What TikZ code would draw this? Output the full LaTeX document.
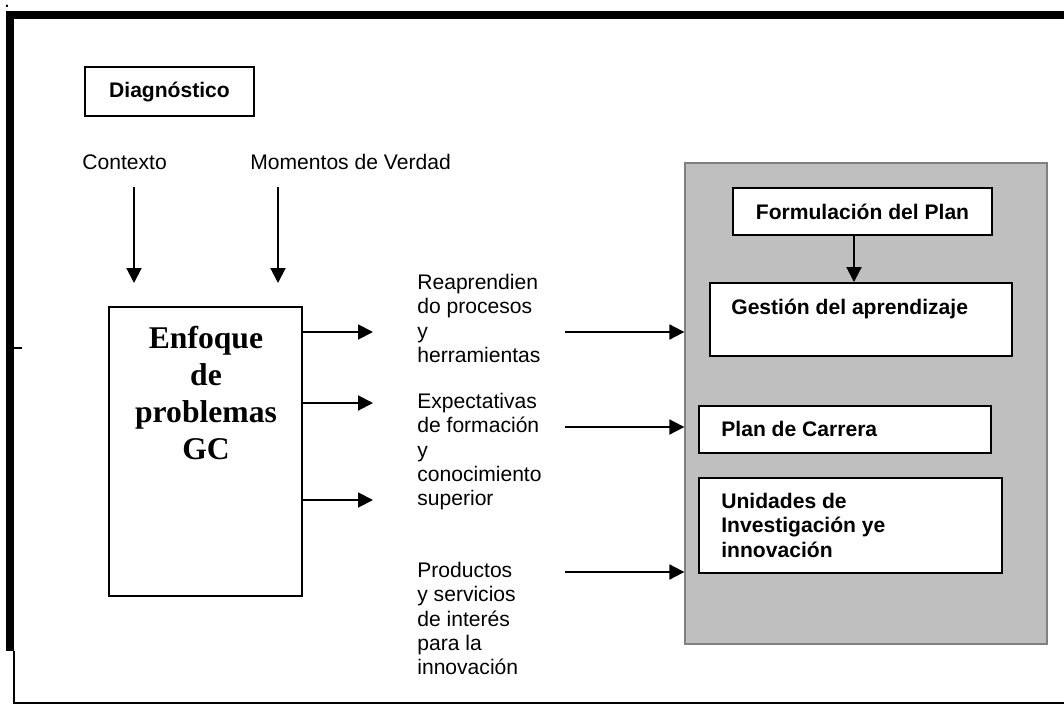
\documentclass[tikz,border=0pt]{standalone}
\usepackage{fontspec}
\setmainfont{Liberation Sans}
\newfontfamily\serifbold{Liberation Serif}
\usetikzlibrary{arrows.meta}

\begin{document}
\begin{tikzpicture}[x=0.02cm, y=-0.02cm,
	box/.style={rectangle, draw=black, fill=white, line width=1.1pt, inner sep=0pt},
	lbl/.style={inner sep=0pt, font=\fontsize{12}{13.8}\selectfont},
	boldlbl/.style={inner sep=0pt, font=\bfseries\fontsize{12}{13.8}\selectfont},
	arr/.style={line width=1.1pt, -{Triangle[length=0.3cm, width=0.3cm]}}]
	\useasboundingbox (0,0) rectangle (1064,704);

	\node[inner sep=0pt, anchor=base, font=\fontsize{12}{13.8}\selectfont](dotMark) at (7,7){.};
	\fill[black](6,11) rectangle (1064,19);
	\fill[black](6,11) rectangle (14,651);
	\draw[line width=0.8pt](14,651) -- (14,703) -- (1064,703);
	\draw[line width=0.6pt](14,348) -- (22,348);

	\node[box, minimum width=3.38cm, minimum height=0.98cm, font=\bfseries\fontsize{12}{13.8}\selectfont](diagBox) at (169.5,91.5){Diagnóstico};

	\node[lbl, anchor=base west](ctxText) at (82,169){Contexto};
	\node[lbl, anchor=base west](momText) at (250,169){Momentos de Verdad};
	\coordinate (ctxTop) at (134,187);
	\coordinate (ctxEnd) at (134,283);
	\coordinate (momTop) at (278,187);
	\coordinate (momEnd) at (278,283);
	\draw[arr](ctxTop) -- (ctxEnd);
	\draw[arr](momTop) -- (momEnd);

	\node[box, minimum width=3.86cm, minimum height=5.78cm](enfoqueBox) at (205.5,451.5){};
	\node[inner sep=0pt, anchor=north, align=center, font=\serifbold\bfseries\fontsize{18}{21}\selectfont](enfoqueText) at (206,326){Enfoque\\de\\problemas\\GC};

	\coordinate (outOne) at (373,332);
	\coordinate (outTwo) at (373,403);
	\coordinate (outThree) at (373,500);
	\draw[arr](enfoqueBox.east |- outOne) -- (outOne);
	\draw[arr](enfoqueBox.east |- outTwo) -- (outTwo);
	\draw[arr](enfoqueBox.east |- outThree) -- (outThree);

	\node[lbl, anchor=north west, align=left](reapText) at (417,274){Reaprendien\\do procesos\\y\\herramientas};
	\node[lbl, anchor=north west, align=left](expText) at (417,393){Expectativas\\de formación\\y\\conocimiento\\superior};
	\node[lbl, anchor=north west, align=left](prodText) at (417,562){Productos\\y servicios\\de interés\\para la\\innovación};

	\node[rectangle, draw=black!50, fill=black!25, line width=0.8pt, minimum width=7.24cm, minimum height=9.62cm](grayBox) at (866,403.5){};

	\coordinate (inOne) at (565,332);
	\coordinate (inTwo) at (565,427);
	\coordinate (inThree) at (565,572);
	\draw[arr](inOne) -- (grayBox.west |- inOne);
	\draw[arr](inTwo) -- (grayBox.west |- inTwo);
	\draw[arr](inThree) -- (grayBox.west |- inThree);

	\node[box, minimum width=5.18cm, minimum height=0.94cm, font=\bfseries\fontsize{12}{13.8}\selectfont](formBox) at (862.5,211.5){Formulación del Plan};
	\node[box, minimum width=6.04cm, minimum height=1.46cm](gestBox) at (861,319.5){};
	\node[boldlbl, anchor=base west](gestText) at (731,314){Gestión del aprendizaje};
	\draw[arr]([xshift=-0.17cm]formBox.south) -- ([xshift=-0.14cm]gestBox.north);

	\node[box, minimum width=5.84cm, minimum height=0.94cm](planBox) at (845,429.5){};
	\node[boldlbl, anchor=base west](planText) at (721,436){Plan de Carrera};

	\node[box, minimum width=6.06cm, minimum height=1.9cm](unidBox) at (850.5,525.5){};
	\node[boldlbl, anchor=north west, align=left](unidText) at (721,493){Unidades de\\Investigación ye\\innovación};

\end{tikzpicture}
\end{document}
